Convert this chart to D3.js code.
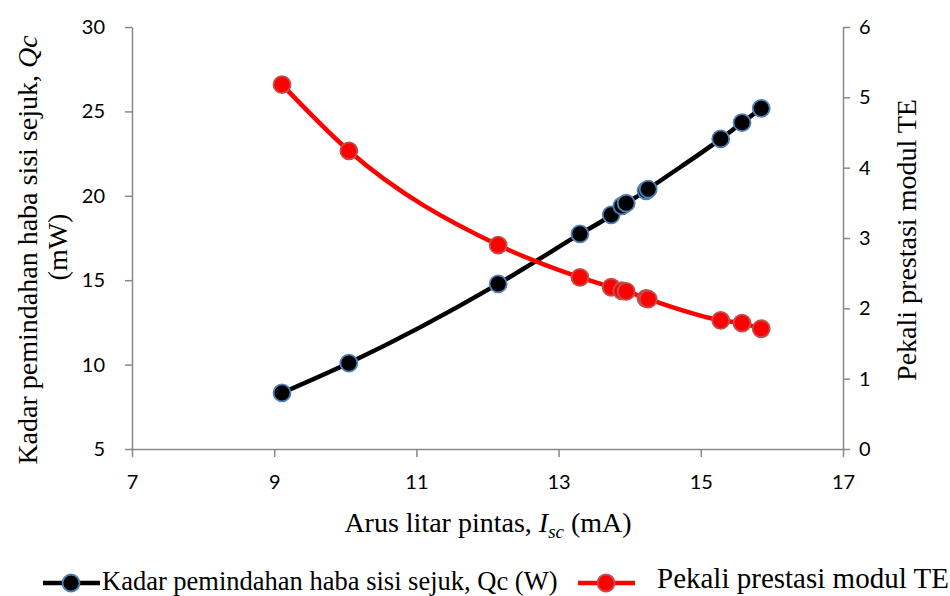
<!DOCTYPE html>
<html>
<head>
<meta charset="utf-8">
<script src="https://cdn.jsdelivr.net/npm/d3@7"></script>
<style>
  body { margin: 0; background: #fff; }
  svg { display: block; }
  .tick text { font-family: Lato, "Open Sans", sans-serif; font-size: 20px; fill: #000; }
  .ttl { font-family: "Liberation Serif", "Times New Roman", serif; fill: #000; }
</style>
</head>
<body>
<svg id="chart"></svg>
<script>
// arus litar pintas (mA)
var isc = [9.11, 10.05, 12.15, 13.30, 13.74, 13.89, 13.95, 14.23, 14.26, 15.28, 15.58, 15.85];
// kadar pemindahan haba sisi sejuk (mW)
var qc = [8.32, 10.09, 14.78, 17.74, 18.87, 19.40, 19.56, 20.30, 20.39, 23.37, 24.33, 25.18];
// pekali prestasi
var cop = [5.18, 4.24, 2.90, 2.44, 2.30, 2.25, 2.24, 2.14, 2.13, 1.83, 1.79, 1.71];

var xTicks = [7, 9, 11, 13, 15, 17];
var yLeftTicks = [5, 10, 15, 20, 25, 30];
var yRightTicks = [0, 1, 2, 3, 4, 5, 6];

var W = 950, H = 596;
var pLeft = 132, pRight = 843, pTop = 27, pBottom = 449;
var axisCol = "#888";

var svg = d3.select("#chart").attr("width", W).attr("height", H);

var x = d3.scaleLinear().domain([7, 17]).range([pLeft, pRight]);
var yL = d3.scaleLinear().domain([5, 30]).range([pBottom, pTop]);
var yR = d3.scaleLinear().domain([0, 6]).range([pBottom, pTop]);

//axes
var gx = svg.append("g").attr("transform", "translate(0," + pBottom + ")")
    .call(d3.axisBottom(x).tickValues(xTicks).tickFormat(d3.format("d"))
        .tickSize(8).tickPadding(14).tickSizeOuter(0));
var gl = svg.append("g").attr("transform", "translate(" + pLeft + ",0)")
    .call(d3.axisLeft(yL).tickValues(yLeftTicks).tickFormat(d3.format("d"))
        .tickSize(7).tickPadding(20).tickSizeOuter(0));
var gr = svg.append("g").attr("transform", "translate(" + pRight + ",0)")
    .call(d3.axisRight(yR).tickValues(yRightTicks).tickFormat(d3.format("d"))
        .tickSize(7).tickPadding(9).tickSizeOuter(0));

[gx, gl, gr].forEach(function(g) {
    g.select(".domain").attr("stroke", axisCol).attr("stroke-width", 1.5);
    g.selectAll(".tick line").attr("stroke", axisCol).attr("stroke-width", 1.5);
});
gx.selectAll(".tick text").attr("dy", "0.9em");

//series
var pts = isc.map(function(v, i) { return { x: v, qc: qc[i], cop: cop[i] }; });

var lineQ = d3.line().x(function(d) { return x(d.x); }).y(function(d) { return yL(d.qc); })
    .curve(d3.curveMonotoneX);
var lineC = d3.line().x(function(d) { return x(d.x); }).y(function(d) { return yR(d.cop); })
    .curve(d3.curveMonotoneX);

svg.append("path").datum(pts).attr("d", lineQ)
    .attr("fill", "none").attr("stroke", "#000").attr("stroke-width", 4.5);
svg.selectAll(".mq").data(pts).enter().append("circle").attr("class", "mq")
    .attr("cx", function(d) { return x(d.x); })
    .attr("cy", function(d) { return yL(d.qc); })
    .attr("r", 8.5).attr("fill", "#000").attr("stroke", "#4f81bd").attr("stroke-width", 1.8);

svg.append("path").datum(pts).attr("d", lineC)
    .attr("fill", "none").attr("stroke", "#ff0000").attr("stroke-width", 4.5);
svg.selectAll(".mc").data(pts).enter().append("circle").attr("class", "mc")
    .attr("cx", function(d) { return x(d.x); })
    .attr("cy", function(d) { return yR(d.cop); })
    .attr("r", 8.5).attr("fill", "#ff0000").attr("stroke", "#c0504d").attr("stroke-width", 1.8);

//axis titles
var xt = svg.append("text").attr("class", "ttl").attr("x", 488).attr("y", 532)
    .attr("text-anchor", "middle").style("font-size", "28px");
xt.append("tspan").text("Arus litar pintas, ");
xt.append("tspan").attr("font-style", "italic").text("I");
xt.append("tspan").attr("font-style", "italic").attr("font-size", "19px").attr("dy", 6).text("sc");
xt.append("tspan").attr("dy", -6).text(" (mA)");

var lt = svg.append("text").attr("class", "ttl").attr("transform", "translate(37,250) rotate(-90)")
    .attr("text-anchor", "middle").style("font-size", "28px");
lt.append("tspan").text("Kadar pemindahan haba sisi sejuk, ");
lt.append("tspan").attr("font-style", "italic").text("Qc");
svg.append("text").attr("class", "ttl").attr("transform", "translate(67,247) rotate(-90)")
    .attr("text-anchor", "middle").style("font-size", "28px").text("(mW)");

svg.append("text").attr("class", "ttl").attr("transform", "translate(916,240) rotate(-90)")
    .attr("text-anchor", "middle").style("font-size", "28px").text("Pekali prestasi modul TE");

//legend
var legend = [
    { label: "Kadar pemindahan haba sisi sejuk, Qc (W)", line: "#000", fill: "#000", stroke: "#4f81bd", x0: 43, tx: 102, ty: 590, fs: 26.5 },
    { label: "Pekali prestasi modul TE", line: "#ff0000", fill: "#ff0000", stroke: "#c0504d", x0: 578, tx: 657, ty: 588, fs: 29 }
];
var lg = svg.selectAll(".lg").data(legend).enter().append("g").attr("class", "lg");
lg.append("line")
    .attr("x1", function(d) { return d.x0; }).attr("x2", function(d) { return d.x0 + 57; })
    .attr("y1", 583).attr("y2", 583)
    .attr("stroke", function(d) { return d.line; }).attr("stroke-width", 4.5);
lg.append("circle")
    .attr("cx", function(d) { return d.x0 + 28; }).attr("cy", 583).attr("r", 8.5)
    .attr("fill", function(d) { return d.fill; })
    .attr("stroke", function(d) { return d.stroke; }).attr("stroke-width", 1.8);
lg.append("text").attr("class", "ttl")
    .attr("x", function(d) { return d.tx; }).attr("y", function(d) { return d.ty; })
    .style("font-size", function(d) { return d.fs + "px"; })
    .text(function(d) { return d.label; });
</script>
</body>
</html>
